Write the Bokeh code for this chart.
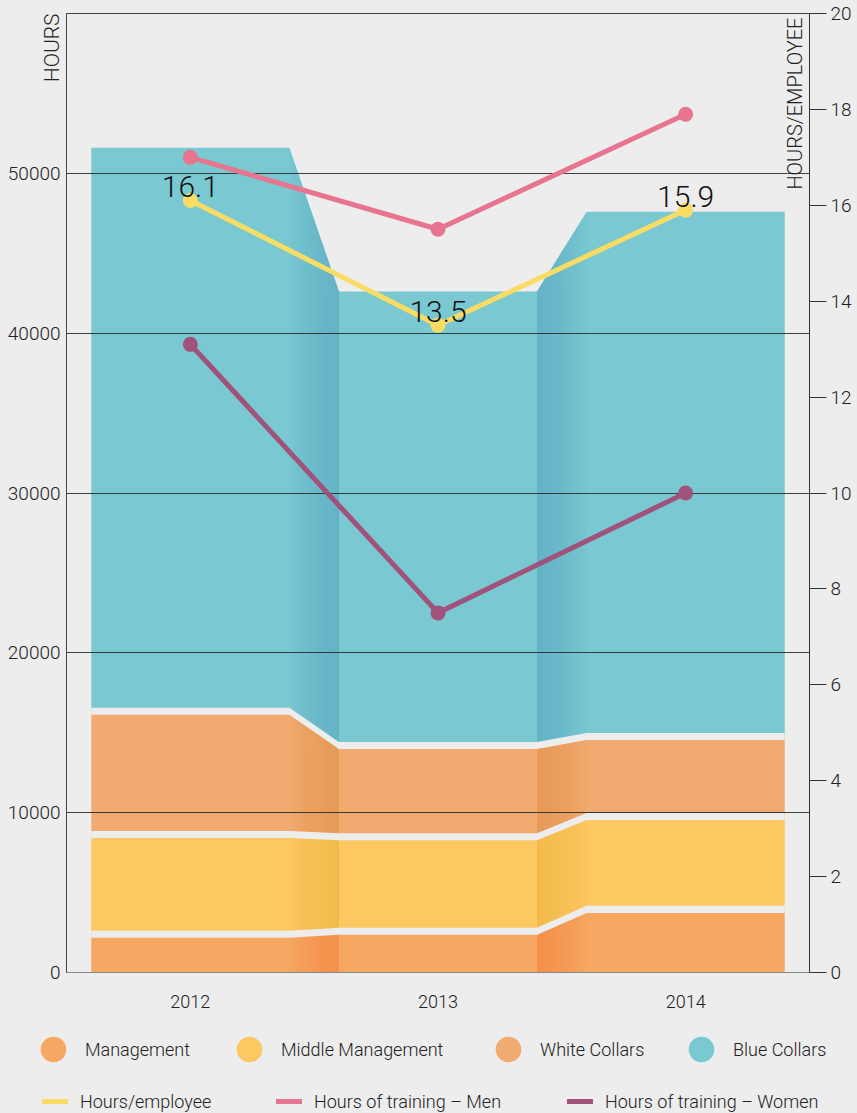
import numpy as np
from bokeh.plotting import figure
from bokeh.layouts import column
from bokeh.models import Range1d, LinearAxis, FixedTicker, Legend, LegendItem, Label, Title
from bokeh.core.properties import value
from bokeh.embed import file_html
from bokeh.resources import INLINE

# ---------------- data ----------------
years = ["2012", "2013", "2014"]
management = [2390, 2580, 3950]
middle_management = [6250, 5910, 5810]
white_collars = [7700, 5710, 5000]
blue_collars = [35260, 28400, 32840]
hours_per_employee = [16.1, 13.5, 15.9]
training_men = [17.0, 15.5, 17.9]
training_women = [13.1, 7.5, 10.0]
hours_ticks = [0, 10000, 20000, 30000, 40000, 50000]
grid_values = [10000, 20000, 30000, 40000, 50000]
per_employee_ticks = [0, 2, 4, 6, 8, 10, 12, 14, 16, 18, 20]
layer_names = ["Management", "Middle Management", "White Collars", "Blue Collars"]
line_names = ["Hours/employee", "Hours of training \u2013 Men", "Hours of training \u2013 Women"]

# ---------------- styles ----------------
FONT = "Roboto Light, Roboto"
BG = "#ededed"
TXT = "#222222"
layer_colors = ["#f6a862", "#fcc862", "#f1aa6f", "#7ac8d1"]
layer_dark = ["#ef8f47", "#f8b547", "#eb9656", "#58abc1"]
line_colors = ["#f8dc64", "#e8758f", "#a0527a"]
HALF = 0.4          # half width of a year column
GAP = 440           # separator thickness in hours (~7px)
N_STRIPS = 12

p = figure(width=857, height=1020,
           x_range=Range1d(-0.5, 2.5), y_range=Range1d(0, 60000),
           output_backend="svg", toolbar_location=None,
           min_border_left=66, min_border_right=48, min_border_top=13, min_border_bottom=48,
           background_fill_color=BG, border_fill_color=BG,
           outline_line_color="#444444")
p.grid.visible = False
p.extra_y_ranges = {"emp": Range1d(0, 20)}

# x axis
n_cat = len(years)
idx = list(range(n_cat))
p.xaxis.ticker = FixedTicker(ticks=idx)
p.xaxis.major_label_overrides = {i: y for i, y in enumerate(years)}
p.xaxis.axis_line_color = "#888888"
p.xaxis.major_tick_line_color = None
p.xaxis.minor_tick_line_color = None
p.xaxis.major_label_standoff = 16
p.xaxis.major_label_text_font = FONT
p.xaxis.major_label_text_font_size = "18px"
p.xaxis.major_label_text_color = TXT

# left axis
p.yaxis.ticker = FixedTicker(ticks=hours_ticks)
p.yaxis.axis_line_color = "#444444"
p.yaxis.major_tick_out = 0
p.yaxis.major_tick_in = 0
p.yaxis.minor_tick_line_color = None
p.yaxis.major_label_standoff = 6
p.yaxis.major_label_text_font = FONT
p.yaxis.major_label_text_font_size = "19px"
p.yaxis.major_label_text_color = TXT

# right axis
ax_r = LinearAxis(y_range_name="emp", ticker=FixedTicker(ticks=per_employee_ticks),
                  major_tick_out=17, major_tick_in=0, minor_tick_line_color=None,
                  major_label_standoff=4, axis_line_color="#333333",
                  major_tick_line_color="#333333",
                  major_label_text_font=FONT, major_label_text_font_size="19px",
                  major_label_text_color=TXT)
p.add_layout(ax_r, "right")

# ---------------- stacked areas ----------------
xs = [i + d for i in idx for d in (-HALF, HALF)]


def steps(v):
    return [float(a) for a in v for _ in range(2)]


layers = np.array([management, middle_management, white_collars, blue_collars], dtype=float)
cum = np.cumsum(layers, axis=0)
lows = [np.zeros(n_cat)] + [cum[k - 1] for k in range(1, len(layers))]

for k in range(len(layers)):
    p.varea(x=xs, y1=steps(lows[k]), y2=steps(cum[k]), fill_color=layer_colors[k])

# shading of the transition bands (darker toward the lower column)
totals = cum[-1]
for k in range(len(layers)):
    px, py = [], []
    for i in range(n_cat - 1):
        xa0, xb0 = i + HALF, i + 1 - HALF
        dark_right = totals[i + 1] < totals[i]
        for j in range(N_STRIPS):
            f = j / N_STRIPS
            if dark_right:
                xa, xb = xa0 + (xb0 - xa0) * f, xb0
            else:
                xa, xb = xa0, xb0 - (xb0 - xa0) * f
            lo = np.interp([xa, xb], xs, steps(lows[k]))
            hi = np.interp([xa, xb], xs, steps(cum[k]))
            px.append([xa, xb, xb, xa])
            py.append([lo[0], lo[1], hi[1], hi[0]])
    p.patches(xs=px, ys=py, fill_color=layer_dark[k], fill_alpha=0.085, line_color=None)

# separators between layers
for k in range(len(layers) - 1):
    c = np.array(steps(cum[k]))
    p.varea(x=xs, y1=list(c - GAP / 2), y2=list(c + GAP / 2), fill_color=BG)

# grid lines over the areas
p.hspan(y=grid_values, line_color="#2b2b2b", line_width=1, line_alpha=0.9)

# ---------------- lines ----------------
series = [hours_per_employee, training_men, training_women]
for vals, col in zip(series, line_colors):
    p.line(idx, vals, y_range_name="emp", line_color=col, line_width=5,
           line_cap="round", line_join="round")
    p.scatter(idx, vals, y_range_name="emp", size=15, fill_color=col, line_color=None)

p.text(x=idx, y=hours_per_employee, text=[f"{v:.1f}" for v in hours_per_employee],
       y_range_name="emp", text_align="center", text_baseline="alphabetic",
       y_offset=-14, text_font=value(FONT), text_font_size="30px", text_color="#111111")

# ---------------- axis titles ----------------
p.add_layout(Title(text="HOURS", align="right", vertical_align="bottom", standoff=-118,
                   offset=0, text_font=FONT, text_font_size="21px",
                   text_font_style="normal", text_color=TXT), "left")
p.add_layout(Label(x=2.5, y=60000, x_offset=-14.5, y_offset=-4, text="HOURS/EMPLOYEE",
                   angle=np.pi / 2, text_align="right", text_baseline="middle",
                   text_font=FONT, text_font_size="20px", text_color=TXT))

# ---------------- legend strip ----------------
lg = figure(width=857, height=93, x_range=Range1d(0, 1), y_range=Range1d(0, 1),
            output_backend="svg", toolbar_location=None, min_border=0,
            min_border_left=0, min_border_right=0, min_border_top=0, min_border_bottom=0,
            x_axis_location=None, y_axis_location=None,
            background_fill_color=BG, border_fill_color=BG, outline_line_color=None)
lg.grid.visible = False
for fig in (p, lg):
    if "frame_align" in fig.properties():
        fig.frame_align = False

row1_glyph_left = [21, 217, 476, 669]
row2_glyph_left = [42, 276, 567]

for k in range(len(layers)):
    proxy = lg.scatter(idx, list(cum[k]), size=28, marker="circle",
                       fill_color=layer_colors[k], line_color=None, visible=False)
    lg.add_layout(Legend(items=[LegendItem(label=layer_names[k], renderers=[proxy])],
                         location=(row1_glyph_left[k], 32), orientation="horizontal",
                         glyph_width=64, glyph_height=64, label_standoff=0,
                         padding=0, margin=0, spacing=0,
                         border_line_alpha=0, background_fill_alpha=0,
                         label_text_font=FONT, label_text_font_size="18px",
                         label_text_color=TXT))

for k, (vals, col) in enumerate(zip(series, line_colors)):
    proxy = lg.line(idx, vals, line_color=col, line_width=5, line_cap="round", visible=False)
    lg.add_layout(Legend(items=[LegendItem(label=line_names[k], renderers=[proxy])],
                         location=(row2_glyph_left[k], 0), orientation="horizontal",
                         glyph_width=26, glyph_height=24, label_standoff=12,
                         padding=0, margin=0, spacing=0,
                         border_line_alpha=0, background_fill_alpha=0,
                         label_text_font=FONT, label_text_font_size="18px",
                         label_text_color=TXT))

page = column(p, lg, spacing=0)
if "styles" in page.properties():
    page.styles = {"background-color": BG}
open("out.html", "w").write(file_html(page, INLINE))
